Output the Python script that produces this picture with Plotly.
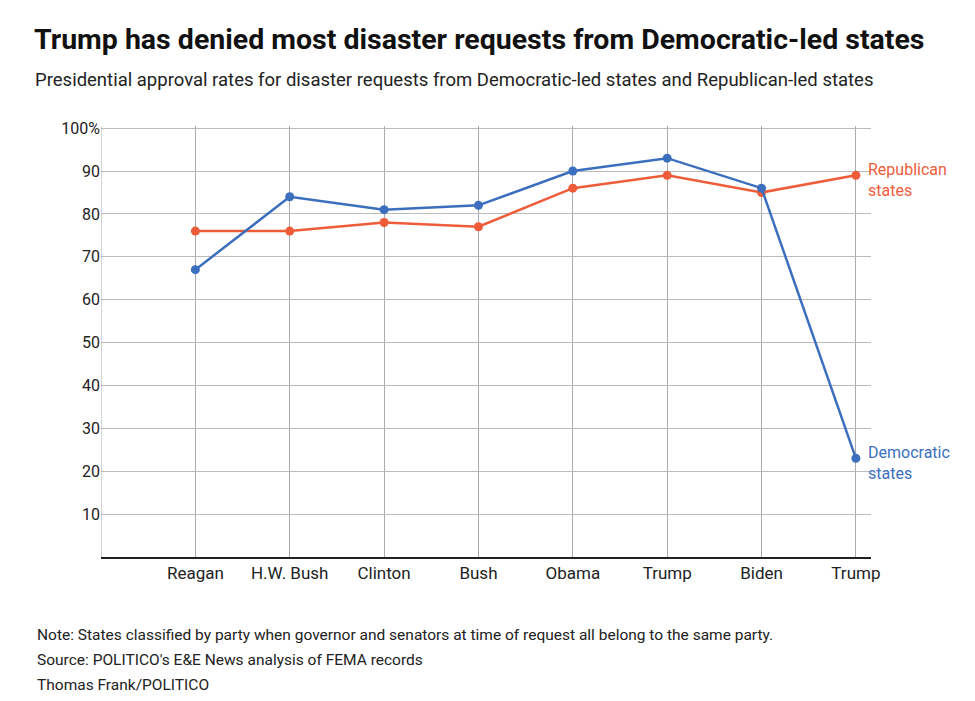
import plotly.graph_objects as go

presidents = ["Reagan", "H.W. Bush", "Clinton", "Bush", "Obama", "Trump", "Biden", "Trump"]
dem_rates = [67, 84, 81, 82, 90, 93, 86, 23]
rep_rates = [76, 76, 78, 77, 86, 89, 85, 89]
y_ticks = [10, 20, 30, 40, 50, 60, 70, 80, 90, 100]
y_labels = ["10", "20", "30", "40", "50", "60", "70", "80", "90", "100%"]

blue = "#3b6fbe"
red = "#ef5c3a"
pos = list(range(len(presidents)))

fig = go.Figure()
fig.add_trace(go.Scatter(x=pos, y=rep_rates, mode="lines+markers", name="Republican states",
                         line=dict(color=red, width=2.5), marker=dict(size=9, color=red)))
fig.add_trace(go.Scatter(x=pos, y=dem_rates, mode="lines+markers", name="Democratic states",
                         line=dict(color=blue, width=2.5), marker=dict(size=9, color=blue)))

fig.add_annotation(x=pos[-1], y=rep_rates[-1], text="Republican<br>states", showarrow=False,
                   xanchor="left", yanchor="middle", xshift=10, yshift=-5, align="left",
                   font=dict(color=red, size=16))
fig.add_annotation(x=pos[-1], y=dem_rates[-1], text="Democratic<br>states", showarrow=False,
                   xanchor="left", yanchor="middle", xshift=10, yshift=-5, align="left",
                   font=dict(color=blue, size=16))

# titles and notes
fig.add_annotation(xref="paper", yref="paper", x=-0.09, y=1.2, xanchor="left", yanchor="middle",
                   showarrow=False,
                   text="<b>Trump has denied most disaster requests from Democratic-led states</b>",
                   font=dict(size=28.5, color="#111"))
fig.add_annotation(xref="paper", yref="paper", x=-0.088, y=1.107, xanchor="left", yanchor="middle",
                   showarrow=False,
                   text="Presidential approval rates for disaster requests from Democratic-led states and Republican-led states",
                   font=dict(size=18.5, color="#222"))
notes = ["Note: States classified by party when governor and senators at time of request all belong to the same party.",
         "Source: POLITICO's E&E News analysis of FEMA records",
         "Thomas Frank/POLITICO"]
for i, n in enumerate(notes):
    fig.add_annotation(xref="paper", yref="paper", x=-0.086, y=-0.181 - i * 0.058, xanchor="left",
                       yanchor="middle", showarrow=False, text=n, font=dict(size=15.5, color="#222"))

fig.update_xaxes(range=[-1, 7.16], tickvals=pos, ticktext=presidents, showgrid=True,
                 gridcolor="#aaaaaa", gridwidth=1, zeroline=False, showline=True, automargin=False,
                 linecolor="#222", linewidth=1.5, ticks="", tickfont=dict(size=17, color="#222"))
fig.update_yaxes(range=[0, 100.5], tickvals=y_ticks, ticktext=y_labels, showgrid=True,
                 gridcolor="#bbbbbb", zeroline=False, showline=False, ticks="", automargin=False,
                 tickfont=dict(size=16, color="#222"))
fig.add_vline(x=-1, line_color="#aaaaaa", line_width=1)

fig.update_layout(width=975, height=701, showlegend=False, plot_bgcolor="white", paper_bgcolor="white",
                  margin=dict(l=93, r=112, t=118, b=152, autoexpand=False),
                  font=dict(family="Roboto, Open Sans, sans-serif"))
fig.write_html("out.html")
